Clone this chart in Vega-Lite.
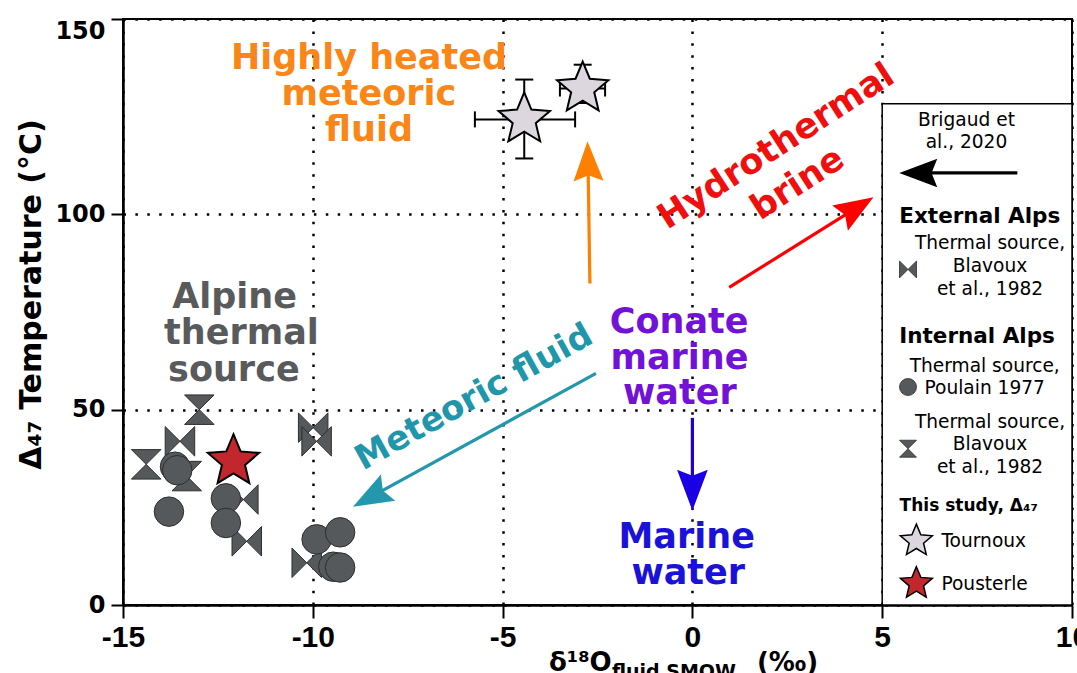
{
  "$schema": "https://vega.github.io/schema/vega-lite/v6.json",
  "width": 949,
  "height": 586,
  "autosize": {"type": "none"},
  "padding": {"left": 123, "top": 19, "right": 5, "bottom": 68},
  "background": "white",
  "config": {
    "view": {"stroke": "black", "strokeWidth": 2},
    "axis": {"domainColor": "black", "tickColor": "black", "labelColor": "black", "titleColor": "black"}
  },
  "datasets": {
    "box": [{"x": 5, "y": 0, "x2": 10, "y2": 128.3}],
    "hbars": [{"x": -5.73, "x2": -3.09, "y": 124.3}, {"x": -3.49, "x2": -2.3, "y": 132.2}],
    "vbars": [{"x": -4.43, "y": 114.3, "y2": 134.5}, {"x": -2.89, "y": 128.5, "y2": 138.3}],
    "hcaps": [{"x": -5.73, "y": 124.3}, {"x": -3.09, "y": 124.3}, {"x": -3.49, "y": 132.2}, {"x": -2.3, "y": 132.2}],
    "vcaps": [{"x": -4.43, "y": 114.3}, {"x": -4.43, "y": 134.5}, {"x": -2.89, "y": 128.5}, {"x": -2.89, "y": 138.3}],
    "thermal": [
      {"s": "int", "x": -12.99, "y": 50.0},
      {"s": "int", "x": -14.39, "y": 36.0},
      {"s": "int", "x": -13.32, "y": 33.0},
      {"s": "ext", "x": -13.5, "y": 41.9},
      {"s": "ext", "x": -11.83, "y": 27.0},
      {"s": "ext", "x": -11.74, "y": 16.3},
      {"s": "ext", "x": -9.99, "y": 45.4},
      {"s": "ext", "x": -9.9, "y": 41.9},
      {"s": "ext", "x": -10.16, "y": 10.8},
      {"s": "poulain", "x": -13.63, "y": 35.4},
      {"s": "poulain", "x": -13.57, "y": 34.5},
      {"s": "poulain", "x": -13.79, "y": 23.9},
      {"s": "poulain", "x": -12.29, "y": 27.3},
      {"s": "poulain", "x": -12.29, "y": 21.0},
      {"s": "poulain", "x": -9.9, "y": 16.8},
      {"s": "poulain", "x": -9.28, "y": 18.6},
      {"s": "poulain", "x": -9.46, "y": 9.8},
      {"s": "poulain", "x": -9.28, "y": 9.6}
    ],
    "study": [
      {"k": "tournoux", "x": -4.43, "y": 124.3},
      {"k": "tournoux", "x": -2.89, "y": 132.2},
      {"k": "pousterle", "x": -12.09, "y": 36.8}
    ],
    "arrows": [
      {"k": "orange", "x": -2.7, "y": 82.3, "x2": -2.75, "y2": 113.6},
      {"k": "red", "x": 0.97, "y": 81.3, "x2": 4.33, "y2": 101.7},
      {"k": "teal", "x": -2.54, "y": 59.3, "x2": -8.48, "y2": 27.6},
      {"k": "blue", "x": 0, "y": 47.9, "x2": 0, "y2": 29.4},
      {"k": "black", "x": 8.56, "y": 110.6, "x2": 5.95, "y2": 110.6}
    ],
    "heads": [
      {"k": "orange", "x": -2.75, "y": 113.6},
      {"k": "red", "x": 4.33, "y": 101.7},
      {"k": "teal", "x": -8.48, "y": 27.6},
      {"k": "blue", "x": 0, "y": 29.4},
      {"k": "black", "x": 5.95, "y": 110.6}
    ],
    "annot": [
      {"t": "Highly heated", "x": -8.52, "y": 137.2, "c": "orange"},
      {"t": "meteoric", "x": -8.52, "y": 128.1, "c": "orange"},
      {"t": "fluid", "x": -8.52, "y": 118.7, "c": "orange"},
      {"t": "Alpine", "x": -12.06, "y": 76.1, "c": "gray"},
      {"t": "thermal", "x": -11.88, "y": 66.7, "c": "gray"},
      {"t": "source", "x": -12.08, "y": 57.3, "c": "gray"},
      {"t": "Conate", "x": -0.35, "y": 69.6, "c": "purple"},
      {"t": "marine", "x": -0.34, "y": 60.5, "c": "purple"},
      {"t": "water", "x": -0.33, "y": 51.4, "c": "purple"},
      {"t": "Marine", "x": -0.15, "y": 14.6, "c": "blue"},
      {"t": "water", "x": -0.11, "y": 5.5, "c": "blue"}
    ],
    "meteoric": [{"t": "Meteoric fluid", "x": -5.75, "y": 53.1, "c": "teal"}],
    "hydro": [
      {"t": "Hydrothermal", "x": 2.2, "y": 117.4, "c": "red"},
      {"t": "brine", "x": 2.77, "y": 107.9, "c": "red"}
    ],
    "legText": [
      {"t": "Brigaud et", "x": 7.22, "y": 124.1},
      {"t": "al., 2020", "x": 7.22, "y": 118.4},
      {"t": "Thermal source,", "x": 7.84, "y": 92.7},
      {"t": "Blavoux", "x": 7.84, "y": 86.9},
      {"t": "et al., 1982", "x": 7.84, "y": 80.9},
      {"t": "Thermal source,", "x": 7.7, "y": 61.2},
      {"t": "Poulain 1977", "x": 7.7, "y": 55.6},
      {"t": "Thermal source,", "x": 7.84, "y": 46.8},
      {"t": "Blavoux", "x": 7.84, "y": 41.1},
      {"t": "et al., 1982", "x": 7.84, "y": 35.2}
    ],
    "legHead": [
      {"t": "External Alps", "x": 7.57, "y": 99.4},
      {"t": "Internal Alps", "x": 7.5, "y": 68.5}
    ],
    "legNote": [{"t": "This study, Δ₄₇", "x": 7.28, "y": 25.4}],
    "legItem": [
      {"t": "Tournoux", "x": 6.56, "y": 16.4},
      {"t": "Pousterle", "x": 6.56, "y": 5.5}
    ],
    "legGray": [
      {"s": "ext", "x": 5.68, "y": 85.9},
      {"s": "poulain", "x": 5.68, "y": 55.8},
      {"s": "int", "x": 5.68, "y": 40.0}
    ],
    "legStar": [
      {"k": "tournoux", "x": 5.9, "y": 16.4},
      {"k": "pousterle", "x": 5.9, "y": 5.5}
    ],
    "xtBig": [
      {"t": "δ¹⁸O", "x": -3.78, "y": -16.9},
      {"t": "(‰)", "x": 1.7, "y": -16.9}
    ],
    "xtSmall": [{"t": "fluid SMOW", "x": -2.12, "y": -18.6}]
  },
  "encoding": {
    "x": {
      "field": "x", "type": "quantitative",
      "scale": {"domain": [-15, 10], "nice": false, "zero": false},
      "axis": {
        "values": [-15, -10, -5, 0, 5, 10], "title": null,
        "labelFont": "Liberation Sans", "labelFontWeight": "bold", "labelFontSize": 30,
        "labelPadding": 4, "labelFlush": false, "labelOverlap": false,
        "labelExpr": "datum.value < 0 ? '-' + (-datum.value) : '' + datum.value",
        "tickSize": 13, "tickWidth": 2, "domainWidth": 2.5,
        "grid": true, "gridColor": "black", "gridDash": [2.5, 9.4], "gridWidth": 2.5, "gridOpacity": 1
      }
    },
    "y": {
      "field": "y", "type": "quantitative",
      "scale": {"domain": [0, 150], "nice": false, "zero": false},
      "axis": {
        "values": [0, 50, 100, 150], "title": "Δ₄₇ Temperature (°C)",
        "titleFont": "DejaVu Sans", "titleFontWeight": "bold", "titleFontSize": 30,
        "titleX": -92, "titleY": 275, "titleAngle": -90, "titleAlign": "center", "titleBaseline": "middle",
        "labelFont": "DejaVu Sans", "labelFontWeight": "bold", "labelFontSize": 24,
        "labelPadding": 6, "labelFlush": false, "labelOverlap": false,
        "labelBaseline": {"condition": {"test": "datum.value == 150", "value": "top"}, "value": "middle"},
        "tickSize": 12, "tickWidth": 2, "domainWidth": 2.5,
        "grid": true, "gridColor": "black", "gridDash": [2.5, 9.4], "gridWidth": 2.5, "gridOpacity": 1
      }
    }
  },
  "layer": [
    {
      "data": {"name": "box"},
      "mark": {"type": "rect", "fill": "white", "stroke": "black", "strokeWidth": 1.5},
      "encoding": {"x2": {"field": "x2"}, "y2": {"field": "y2"}}
    },
    {
      "data": {"name": "hbars"},
      "mark": {"type": "rule", "color": "black", "strokeWidth": 2},
      "encoding": {"x2": {"field": "x2"}}
    },
    {
      "data": {"name": "vbars"},
      "mark": {"type": "rule", "color": "black", "strokeWidth": 2},
      "encoding": {"y2": {"field": "y2"}}
    },
    {
      "data": {"name": "hcaps"},
      "mark": {"type": "tick", "orient": "vertical", "color": "black", "size": 16, "thickness": 2, "opacity": 1}
    },
    {
      "data": {"name": "vcaps"},
      "mark": {"type": "tick", "orient": "horizontal", "color": "black", "size": 18, "thickness": 2, "opacity": 1}
    },
    {
      "data": {"name": "thermal"},
      "mark": {"type": "point", "filled": true, "fill": "#55595b", "stroke": "#2e2e2e", "strokeWidth": 1, "size": 870, "opacity": 1},
      "encoding": {
        "shape": {"field": "s", "type": "nominal", "scale": {"domain": ["int", "ext", "poulain"], "range": ["M-1,-1L1,-1L-1,1L1,1Z", "M-1,-1L1,1L1,-1L-1,1Z", "circle"]}, "legend": null}
      }
    },
    {
      "data": {"name": "study"},
      "mark": {"type": "point", "filled": true, "shape": "M0,-1L0.265,-0.364L0.951,-0.309L0.428,0.139L0.588,0.809L0,0.45L-0.588,0.809L-0.428,0.139L-0.951,-0.309L-0.265,-0.364Z", "size": 2916, "stroke": "black", "strokeWidth": 2, "opacity": 1},
      "encoding": {
        "color": {"field": "k", "type": "nominal", "scale": {"domain": ["orange", "red", "teal", "blue", "black", "tournoux", "pousterle"], "range": ["#ff8000", "#ff0000", "#2398ad", "#1a00e5", "#000000", "#dcd7df", "#c1272d"]}, "legend": null}
      }
    },
    {
      "data": {"name": "arrows"},
      "mark": {"type": "rule", "strokeWidth": 3.2},
      "encoding": {
        "x2": {"field": "x2"}, "y2": {"field": "y2"},
        "color": {"field": "k", "type": "nominal", "scale": {"domain": ["orange", "red", "teal", "blue", "black", "tournoux", "pousterle"], "range": ["#ff8000", "#ff0000", "#2398ad", "#1a00e5", "#000000", "#dcd7df", "#c1272d"]}, "legend": null}
      }
    },
    {
      "data": {"name": "heads"},
      "transform": [{"filter": "datum.k == 'orange'"}],
      "mark": {"type": "point", "filled": true, "shape": "M0,-1L0.75,1L0,0.7L-0.75,1Z", "size": 1600, "angle": -1.4, "opacity": 1},
      "encoding": {"color": {"field": "k", "type": "nominal", "scale": {"domain": ["orange", "red", "teal", "blue", "black", "tournoux", "pousterle"], "range": ["#ff8000", "#ff0000", "#2398ad", "#1a00e5", "#000000", "#dcd7df", "#c1272d"]}, "legend": null}}
    },
    {
      "data": {"name": "heads"},
      "transform": [{"filter": "datum.k == 'red'"}],
      "mark": {"type": "point", "filled": true, "shape": "M0,-1L0.75,1L0,0.7L-0.75,1Z", "size": 1550, "angle": 58, "opacity": 1},
      "encoding": {"color": {"field": "k", "type": "nominal", "scale": {"domain": ["orange", "red", "teal", "blue", "black", "tournoux", "pousterle"], "range": ["#ff8000", "#ff0000", "#2398ad", "#1a00e5", "#000000", "#dcd7df", "#c1272d"]}, "legend": null}}
    },
    {
      "data": {"name": "heads"},
      "transform": [{"filter": "datum.k == 'teal'"}],
      "mark": {"type": "point", "filled": true, "shape": "M0,-1L0.75,1L0,0.7L-0.75,1Z", "size": 1600, "angle": 241.3, "opacity": 1},
      "encoding": {"color": {"field": "k", "type": "nominal", "scale": {"domain": ["orange", "red", "teal", "blue", "black", "tournoux", "pousterle"], "range": ["#ff8000", "#ff0000", "#2398ad", "#1a00e5", "#000000", "#dcd7df", "#c1272d"]}, "legend": null}}
    },
    {
      "data": {"name": "heads"},
      "transform": [{"filter": "datum.k == 'blue'"}],
      "mark": {"type": "point", "filled": true, "shape": "M0,-1L0.75,1L0,0.7L-0.75,1Z", "size": 1681, "angle": 180, "opacity": 1},
      "encoding": {"color": {"field": "k", "type": "nominal", "scale": {"domain": ["orange", "red", "teal", "blue", "black", "tournoux", "pousterle"], "range": ["#ff8000", "#ff0000", "#2398ad", "#1a00e5", "#000000", "#dcd7df", "#c1272d"]}, "legend": null}}
    },
    {
      "data": {"name": "heads"},
      "transform": [{"filter": "datum.k == 'black'"}],
      "mark": {"type": "point", "filled": true, "shape": "M0,-1L0.75,1L0,0.7L-0.75,1Z", "size": 1444, "angle": 270, "opacity": 1},
      "encoding": {"color": {"field": "k", "type": "nominal", "scale": {"domain": ["orange", "red", "teal", "blue", "black", "tournoux", "pousterle"], "range": ["#ff8000", "#ff0000", "#2398ad", "#1a00e5", "#000000", "#dcd7df", "#c1272d"]}, "legend": null}}
    },
    {
      "data": {"name": "annot"},
      "mark": {"type": "text", "font": "DejaVu Sans", "fontWeight": "bold", "fontSize": 35, "align": "center", "baseline": "alphabetic"},
      "encoding": {
        "text": {"field": "t"},
        "fill": {"field": "c", "type": "nominal", "scale": {"domain": ["orange", "gray", "purple", "blue", "teal", "red"], "range": ["#f98616", "#585a5c", "#7112d6", "#1b12d9", "#2096aa", "#f00f0f"]}, "legend": null}
      }
    },
    {
      "data": {"name": "meteoric"},
      "mark": {"type": "text", "font": "DejaVu Sans", "fontWeight": "bold", "fontSize": 34, "align": "center", "baseline": "middle", "angle": -29},
      "encoding": {
        "text": {"field": "t"},
        "fill": {"field": "c", "type": "nominal", "scale": {"domain": ["orange", "gray", "purple", "blue", "teal", "red"], "range": ["#f98616", "#585a5c", "#7112d6", "#1b12d9", "#2096aa", "#f00f0f"]}, "legend": null}
      }
    },
    {
      "data": {"name": "hydro"},
      "mark": {"type": "text", "font": "DejaVu Sans", "fontWeight": "bold", "fontSize": 35, "align": "center", "baseline": "middle", "angle": -33},
      "encoding": {
        "text": {"field": "t"},
        "fill": {"field": "c", "type": "nominal", "scale": {"domain": ["orange", "gray", "purple", "blue", "teal", "red"], "range": ["#f98616", "#585a5c", "#7112d6", "#1b12d9", "#2096aa", "#f00f0f"]}, "legend": null}
      }
    },
    {
      "data": {"name": "legText"},
      "mark": {"type": "text", "font": "DejaVu Sans", "fontSize": 18.6, "align": "center", "baseline": "middle", "color": "black"},
      "encoding": {"text": {"field": "t"}}
    },
    {
      "data": {"name": "legHead"},
      "mark": {"type": "text", "font": "DejaVu Sans", "fontWeight": "bold", "fontSize": 21.5, "align": "center", "baseline": "middle", "color": "black"},
      "encoding": {"text": {"field": "t"}}
    },
    {
      "data": {"name": "legNote"},
      "mark": {"type": "text", "font": "DejaVu Sans", "fontWeight": "bold", "fontSize": 17, "align": "center", "baseline": "middle", "color": "black"},
      "encoding": {"text": {"field": "t"}}
    },
    {
      "data": {"name": "legItem"},
      "mark": {"type": "text", "font": "DejaVu Sans", "fontSize": 18.6, "align": "left", "baseline": "middle", "color": "black"},
      "encoding": {"text": {"field": "t"}}
    },
    {
      "data": {"name": "legGray"},
      "mark": {"type": "point", "filled": true, "fill": "#55595b", "stroke": "#2e2e2e", "strokeWidth": 0.8, "size": 289, "opacity": 1},
      "encoding": {
        "shape": {"field": "s", "type": "nominal", "scale": {"domain": ["int", "ext", "poulain"], "range": ["M-1,-1L1,-1L-1,1L1,1Z", "M-1,-1L1,1L1,-1L-1,1Z", "circle"]}, "legend": null}
      }
    },
    {
      "data": {"name": "legStar"},
      "mark": {"type": "point", "filled": true, "shape": "M0,-1L0.265,-0.364L0.951,-0.309L0.428,0.139L0.588,0.809L0,0.45L-0.588,0.809L-0.428,0.139L-0.951,-0.309L-0.265,-0.364Z", "size": 1130, "stroke": "black", "strokeWidth": 1.5, "opacity": 1},
      "encoding": {
        "color": {"field": "k", "type": "nominal", "scale": {"domain": ["orange", "red", "teal", "blue", "black", "tournoux", "pousterle"], "range": ["#ff8000", "#ff0000", "#2398ad", "#1a00e5", "#000000", "#dcd7df", "#c1272d"]}, "legend": null}
      }
    },
    {
      "data": {"name": "xtBig"},
      "mark": {"type": "text", "font": "DejaVu Sans", "fontWeight": "bold", "fontSize": 26, "align": "left", "baseline": "alphabetic", "color": "black"},
      "encoding": {"text": {"field": "t"}}
    },
    {
      "data": {"name": "xtSmall"},
      "mark": {"type": "text", "font": "DejaVu Sans", "fontWeight": "bold", "fontSize": 19, "align": "left", "baseline": "alphabetic", "color": "black"},
      "encoding": {"text": {"field": "t"}}
    }
  ]
}
